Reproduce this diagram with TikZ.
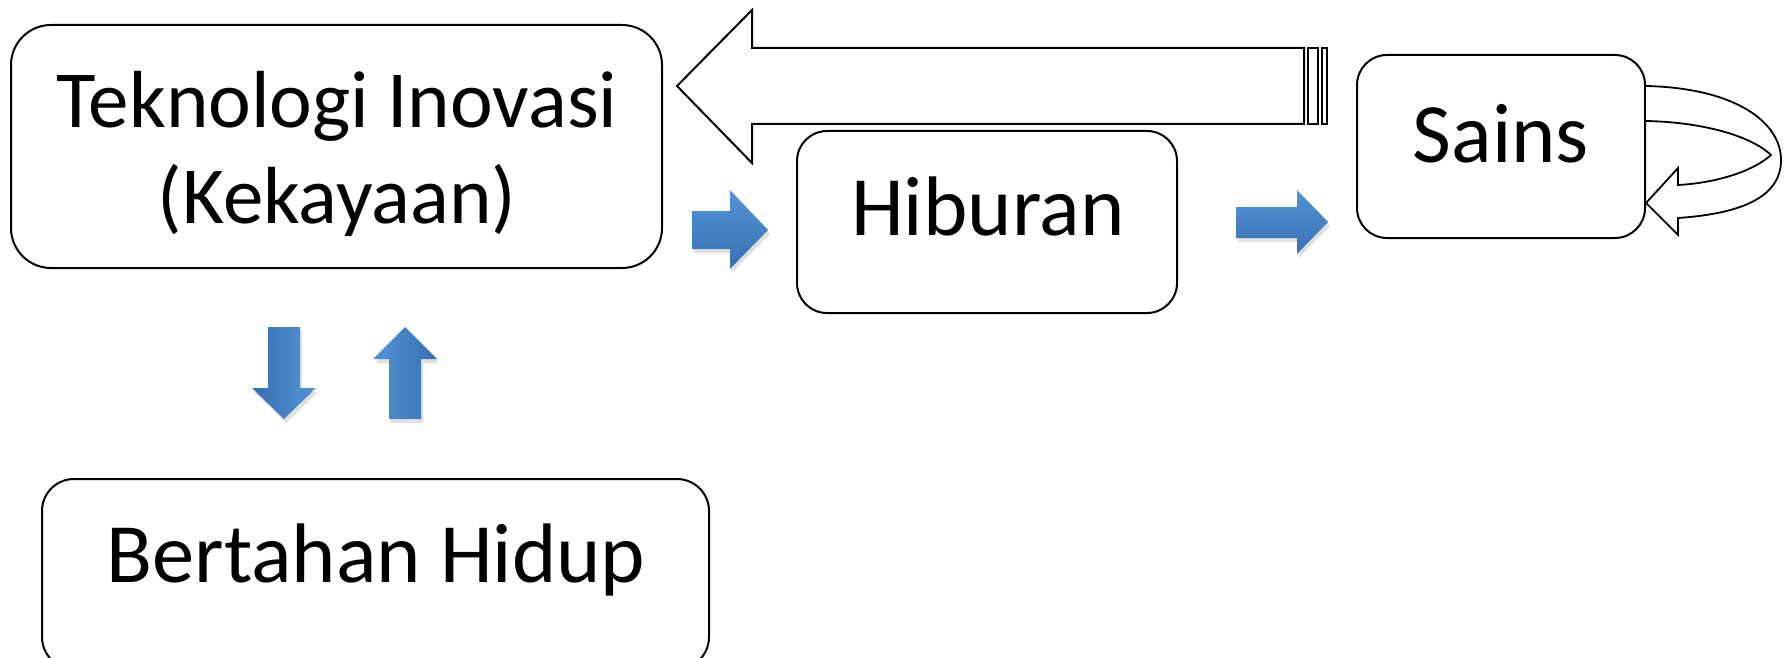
\documentclass[tikz,border=0pt]{standalone}
\usepackage{fontspec}
\setmainfont{Carlito}
\definecolor{blueL}{RGB}{82,148,214}
\definecolor{blueD}{RGB}{56,112,178}
\tikzset{
  box/.style={draw=black, line width=2pt, fill=white, rounded corners=#1, inner sep=0pt},
  box/.default=32pt,
  lbl/.style={font=\fontsize{84.5}{96}\selectfont, inner sep=0pt, anchor=base, align=center},
  hollow/.style={draw=black, line width=2pt, fill=white, line join=miter},
  blockH/.style={top color=blueL, bottom color=blueD, draw=none},
  blockV/.style={left color=blueD, right color=blueL, draw=none},
  blockU/.style={left color=blueL, right color=blueD, draw=none},
  shad/.style={fill=black, opacity=0.12, draw=none}
}
\begin{document}
\begin{tikzpicture}[x=1pt, y=-1pt]
\useasboundingbox (0,0) rectangle (1787,658);
\clip (0,0) rectangle (1787,658);
% boxes
\node[box=40pt, minimum width=651pt, minimum height=243pt] (tek) at (336.5,146.5) {};
\node[box=30pt, minimum width=380pt, minimum height=182pt] (hib) at (987,222) {};
\node[box=30pt, minimum width=288pt, minimum height=183pt] (sains) at (1501,146.5) {};
\node[box=32pt, minimum width=667pt, minimum height=190pt] (bert) at (375.5,574) {};
% texts
\node[lbl, font=\fontsize{81}{96}\selectfont] (tekT) at (337,223) {Teknologi Inovasi\\(Kekayaan)};
\node[lbl] (hibT) at (988,235) {Hiburan};
\node[lbl] (sainsT) at (1501,162) {Sains};
\node[lbl] (bertT) at (376,582) {Bertahan Hidup};
% big hollow arrow Sains -> Teknologi
\coordinate (bigtip) at (677,86);
\draw[hollow] (1304,48) -- (752,48) -- (752,10) -- (bigtip) -- (752,163) -- (752,124) -- (1304,124) -- cycle;
\draw[hollow] (1308,48) rectangle (1318,124);
\draw[hollow] (1322,48) rectangle (1327,124);
% circular arrow on Sains
\coordinate (ctip) at (1646,203);
\draw[hollow, line width=1.8pt] (1646,86) .. controls (1735,88) and (1781,122) .. (1781,160)
  .. controls (1781,200) and (1735,214) .. (1678,218) -- (1678,235) -- (ctip) -- (1678,168) -- (1678,185)
  .. controls (1715,183) and (1752,172) .. (1771,155)
  .. controls (1750,135) and (1700,122) .. (1646,121);
% blue block arrows
\begin{scope}[shift={(2,4)}]
\fill[shad] (692,211) -- (730,211) -- (730,190) -- (768,230) -- (730,269) -- (730,249) -- (692,249) -- cycle;
\fill[shad] (1236,207) -- (1297,207) -- (1297,190) -- (1328,222) -- (1297,254) -- (1297,238) -- (1236,238) -- cycle;
\fill[shad] (268,327) -- (300,327) -- (300,388) -- (316,388) -- (284,419) -- (252,388) -- (268,388) -- cycle;
\fill[shad] (389,419) -- (421,419) -- (421,359) -- (437,359) -- (405,327) -- (373,359) -- (389,359) -- cycle;
\end{scope}
\shade[blockH] (692,211) -- (730,211) -- (730,190) -- (768,230) -- (730,269) -- (730,249) -- (692,249) -- cycle;
\shade[blockH] (1236,207) -- (1297,207) -- (1297,190) -- (1328,222) -- (1297,254) -- (1297,238) -- (1236,238) -- cycle;
\shade[blockV] (268,327) -- (300,327) -- (300,388) -- (316,388) -- (284,419) -- (252,388) -- (268,388) -- cycle;
\shade[blockU] (389,419) -- (421,419) -- (421,359) -- (437,359) -- (405,327) -- (373,359) -- (389,359) -- cycle;
\end{tikzpicture}
\end{document}
